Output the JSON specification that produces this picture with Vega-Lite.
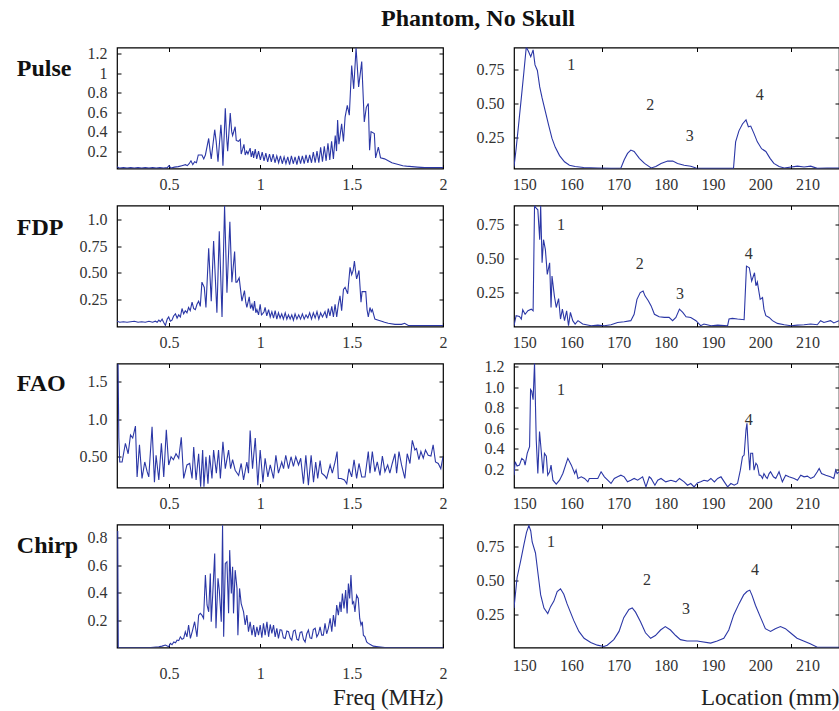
{
"$schema": "https://vega.github.io/schema/vega-lite/v6.json",
"background": "white",
"padding": {"left": 15, "top": 6.5, "right": 0, "bottom": 0},
"title": {"text": "Phantom, No Skull", "font": "Liberation Serif", "fontSize": 24, "fontWeight": "bold", "color": "#111", "anchor": "middle", "frame": "group", "dx": 361, "offset": 14},
"config": {
  "font": "Liberation Serif",
  "view": {"stroke": "#000", "strokeWidth": 1.2},
  "axis": {"labelFont": "Liberation Serif", "labelFontSize": 16, "labelColor": "#333", "tickColor": "#000", "tickSize": -4, "tickWidth": 1, "domain": false, "grid": false, "labelFlush": false, "labelOverlap": false, "labelBound": false, "titleFont": "Liberation Serif"},
  "axisLeft": {"titleAngle": 0, "titleAlign": "left", "titleBaseline": "alphabetic", "titleX": -100.7, "titleFontSize": 24, "titleFontWeight": "bold", "titleColor": "#111", "labelPadding": 14},
  "axisBottom": {"titleFontSize": 23, "titleFontWeight": "normal", "titleAlign": "right", "titleBaseline": "alphabetic", "titleY": 57, "titleColor": "#222", "labelPadding": 12},
  "text": {"font": "Liberation Serif", "fontSize": 16, "color": "#333"}
},
"datasets": {
"pF": [{"x":0.215,"y":0.04},{"x":0.23,"y":0.025},{"x":0.25,"y":0.03},{"x":0.27,"y":0.025},{"x":0.29,"y":0.03},{"x":0.31,"y":0.025},{"x":0.33,"y":0.03},{"x":0.35,"y":0.025},{"x":0.37,"y":0.03},{"x":0.39,"y":0.025},{"x":0.41,"y":0.03},{"x":0.43,"y":0.025},{"x":0.45,"y":0.03},{"x":0.47,"y":0.025},{"x":0.49,"y":0.03},{"x":0.5,"y":0.05},{"x":0.51,"y":0.025},{"x":0.53,"y":0.035},{"x":0.55,"y":0.04},{"x":0.57,"y":0.05},{"x":0.59,"y":0.06},{"x":0.6,"y":0.05},{"x":0.61,"y":0.07},{"x":0.62,"y":0.1},{"x":0.63,"y":0.06},{"x":0.64,"y":0.09},{"x":0.65,"y":0.08},{"x":0.66,"y":0.16},{"x":0.68,"y":0.16},{"x":0.69,"y":0.12},{"x":0.699,"y":0.16},{"x":0.717,"y":0.33},{"x":0.725,"y":0.2},{"x":0.731,"y":0.12},{"x":0.75,"y":0.42},{"x":0.758,"y":0.3},{"x":0.768,"y":0.09},{"x":0.784,"y":0.47},{"x":0.79,"y":0.3},{"x":0.795,"y":0.05},{"x":0.808,"y":0.64},{"x":0.815,"y":0.35},{"x":0.821,"y":0.2},{"x":0.835,"y":0.59},{"x":0.843,"y":0.4},{"x":0.848,"y":0.36},{"x":0.862,"y":0.45},{"x":0.868,"y":0.31},{"x":0.88,"y":0.3},{"x":0.89,"y":0.32},{"x":0.895,"y":0.17},{"x":0.903,"y":0.22},{"x":0.91,"y":0.27},{"x":0.917,"y":0.16},{"x":0.925,"y":0.2},{"x":0.932,"y":0.17},{"x":0.944,"y":0.23},{"x":0.95,"y":0.14},{"x":0.958,"y":0.2},{"x":0.963,"y":0.13},{"x":0.972,"y":0.22},{"x":0.98,"y":0.12},{"x":0.99,"y":0.2},{"x":1.0,"y":0.11},{"x":1.01,"y":0.19},{"x":1.02,"y":0.1},{"x":1.03,"y":0.18},{"x":1.04,"y":0.09},{"x":1.05,"y":0.17},{"x":1.06,"y":0.09},{"x":1.07,"y":0.17},{"x":1.08,"y":0.08},{"x":1.09,"y":0.15},{"x":1.1,"y":0.08},{"x":1.11,"y":0.15},{"x":1.12,"y":0.07},{"x":1.13,"y":0.14},{"x":1.14,"y":0.07},{"x":1.15,"y":0.14},{"x":1.16,"y":0.06},{"x":1.17,"y":0.15},{"x":1.18,"y":0.07},{"x":1.19,"y":0.14},{"x":1.2,"y":0.06},{"x":1.21,"y":0.15},{"x":1.22,"y":0.07},{"x":1.23,"y":0.15},{"x":1.24,"y":0.07},{"x":1.25,"y":0.16},{"x":1.26,"y":0.08},{"x":1.27,"y":0.16},{"x":1.28,"y":0.08},{"x":1.29,"y":0.19},{"x":1.3,"y":0.08},{"x":1.31,"y":0.2},{"x":1.32,"y":0.08},{"x":1.33,"y":0.24},{"x":1.34,"y":0.09},{"x":1.35,"y":0.25},{"x":1.36,"y":0.1},{"x":1.37,"y":0.28},{"x":1.38,"y":0.11},{"x":1.39,"y":0.3},{"x":1.4,"y":0.12},{"x":1.41,"y":0.36},{"x":1.417,"y":0.2},{"x":1.423,"y":0.52},{"x":1.43,"y":0.27},{"x":1.445,"y":0.48},{"x":1.455,"y":0.3},{"x":1.464,"y":0.55},{"x":1.476,"y":0.67},{"x":1.487,"y":0.57},{"x":1.5,"y":1.08},{"x":1.511,"y":0.84},{"x":1.524,"y":1.26},{"x":1.538,"y":0.86},{"x":1.555,"y":1.12},{"x":1.569,"y":0.5},{"x":1.58,"y":0.65},{"x":1.591,"y":0.69},{"x":1.598,"y":0.21},{"x":1.606,"y":0.4},{"x":1.624,"y":0.38},{"x":1.631,"y":0.13},{"x":1.646,"y":0.24},{"x":1.658,"y":0.13},{"x":1.68,"y":0.12},{"x":1.7,"y":0.1},{"x":1.72,"y":0.08},{"x":1.74,"y":0.07},{"x":1.76,"y":0.06},{"x":1.78,"y":0.05},{"x":1.8,"y":0.045},{"x":1.83,"y":0.04},{"x":1.86,"y":0.035},{"x":1.9,"y":0.03},{"x":1.95,"y":0.03},{"x":2.0,"y":0.03}],
"pL": [{"x":148.25,"y":0.04},{"x":148.7,"y":0.17},{"x":149.3,"y":0.37},{"x":149.8,"y":0.54},{"x":150.35,"y":0.73},{"x":150.85,"y":0.91},{"x":151.3,"y":0.88},{"x":151.8,"y":0.84},{"x":152.3,"y":0.89},{"x":152.7,"y":0.78},{"x":153.2,"y":0.74},{"x":153.7,"y":0.62},{"x":154.2,"y":0.54},{"x":154.9,"y":0.44},{"x":155.6,"y":0.34},{"x":156.3,"y":0.245},{"x":157.0,"y":0.18},{"x":157.9,"y":0.12},{"x":158.95,"y":0.075},{"x":160.0,"y":0.05},{"x":161.2,"y":0.04},{"x":163,"y":0.033},{"x":166.0,"y":0.03},{"x":168.8,"y":0.027},{"x":170.9,"y":0.03},{"x":171.6,"y":0.09},{"x":172.3,"y":0.136},{"x":173.0,"y":0.16},{"x":173.7,"y":0.15},{"x":174.8,"y":0.1},{"x":175.9,"y":0.063},{"x":177.3,"y":0.03},{"x":178.3,"y":0.04},{"x":179.4,"y":0.063},{"x":180.8,"y":0.08},{"x":181.9,"y":0.08},{"x":182.9,"y":0.063},{"x":184.3,"y":0.05},{"x":185.7,"y":0.043},{"x":186.8,"y":0.03},{"x":188.5,"y":0.027},{"x":191.4,"y":0.027},{"x":194.75,"y":0.027},{"x":195.2,"y":0.22},{"x":195.9,"y":0.3},{"x":196.65,"y":0.35},{"x":197.4,"y":0.38},{"x":197.9,"y":0.33},{"x":198.4,"y":0.335},{"x":199.1,"y":0.28},{"x":199.8,"y":0.22},{"x":200.7,"y":0.17},{"x":201.6,"y":0.15},{"x":202.5,"y":0.1},{"x":203.3,"y":0.063},{"x":204.4,"y":0.04},{"x":205.5,"y":0.03},{"x":208.3,"y":0.043},{"x":209.7,"y":0.037},{"x":211.1,"y":0.043},{"x":212.5,"y":0.027},{"x":214.6,"y":0.03},{"x":217.1,"y":0.03}],
"dF": [{"x":0.215,"y":0.04},{"x":0.23,"y":0.03},{"x":0.25,"y":0.035},{"x":0.27,"y":0.03},{"x":0.29,"y":0.035},{"x":0.31,"y":0.04},{"x":0.33,"y":0.03},{"x":0.35,"y":0.035},{"x":0.37,"y":0.03},{"x":0.39,"y":0.04},{"x":0.41,"y":0.03},{"x":0.425,"y":0.04},{"x":0.435,"y":0.03},{"x":0.444,"y":0.05},{"x":0.452,"y":0.035},{"x":0.462,"y":0.06},{"x":0.47,"y":0.03},{"x":0.48,"y":0.0},{"x":0.49,"y":0.06},{"x":0.498,"y":0.08},{"x":0.507,"y":0.04},{"x":0.516,"y":0.05},{"x":0.525,"y":0.09},{"x":0.535,"y":0.11},{"x":0.544,"y":0.07},{"x":0.553,"y":0.1},{"x":0.562,"y":0.08},{"x":0.571,"y":0.16},{"x":0.58,"y":0.11},{"x":0.589,"y":0.14},{"x":0.598,"y":0.12},{"x":0.607,"y":0.17},{"x":0.616,"y":0.14},{"x":0.626,"y":0.22},{"x":0.635,"y":0.16},{"x":0.644,"y":0.15},{"x":0.653,"y":0.2},{"x":0.662,"y":0.23},{"x":0.671,"y":0.18},{"x":0.68,"y":0.41},{"x":0.693,"y":0.36},{"x":0.702,"y":0.17},{"x":0.717,"y":0.73},{"x":0.731,"y":0.23},{"x":0.744,"y":0.8},{"x":0.762,"y":0.12},{"x":0.775,"y":0.89},{"x":0.79,"y":0.08},{"x":0.804,"y":1.13},{"x":0.817,"y":0.31},{"x":0.833,"y":0.98},{"x":0.844,"y":0.41},{"x":0.859,"y":0.7},{"x":0.866,"y":0.41},{"x":0.872,"y":0.41},{"x":0.884,"y":0.45},{"x":0.899,"y":0.23},{"x":0.913,"y":0.33},{"x":0.92,"y":0.22},{"x":0.926,"y":0.17},{"x":0.939,"y":0.27},{"x":0.946,"y":0.16},{"x":0.954,"y":0.2},{"x":0.961,"y":0.14},{"x":0.968,"y":0.23},{"x":0.975,"y":0.12},{"x":0.981,"y":0.15},{"x":0.99,"y":0.1},{"x":0.999,"y":0.2},{"x":1.006,"y":0.1},{"x":1.012,"y":0.11},{"x":1.02,"y":0.13},{"x":1.026,"y":0.17},{"x":1.035,"y":0.09},{"x":1.045,"y":0.15},{"x":1.054,"y":0.08},{"x":1.063,"y":0.13},{"x":1.072,"y":0.07},{"x":1.081,"y":0.14},{"x":1.09,"y":0.06},{"x":1.099,"y":0.12},{"x":1.108,"y":0.07},{"x":1.117,"y":0.11},{"x":1.126,"y":0.06},{"x":1.136,"y":0.12},{"x":1.145,"y":0.06},{"x":1.154,"y":0.1},{"x":1.163,"y":0.06},{"x":1.172,"y":0.1},{"x":1.181,"y":0.05},{"x":1.19,"y":0.11},{"x":1.2,"y":0.06},{"x":1.21,"y":0.1},{"x":1.22,"y":0.06},{"x":1.23,"y":0.11},{"x":1.24,"y":0.06},{"x":1.25,"y":0.1},{"x":1.26,"y":0.07},{"x":1.27,"y":0.12},{"x":1.28,"y":0.06},{"x":1.29,"y":0.12},{"x":1.3,"y":0.07},{"x":1.31,"y":0.13},{"x":1.32,"y":0.06},{"x":1.33,"y":0.12},{"x":1.34,"y":0.08},{"x":1.354,"y":0.13},{"x":1.363,"y":0.07},{"x":1.372,"y":0.16},{"x":1.381,"y":0.09},{"x":1.391,"y":0.18},{"x":1.4,"y":0.08},{"x":1.409,"y":0.2},{"x":1.418,"y":0.08},{"x":1.427,"y":0.2},{"x":1.436,"y":0.28},{"x":1.445,"y":0.14},{"x":1.455,"y":0.34},{"x":1.464,"y":0.36},{"x":1.478,"y":0.3},{"x":1.491,"y":0.55},{"x":1.5,"y":0.48},{"x":1.508,"y":0.52},{"x":1.515,"y":0.61},{"x":1.522,"y":0.5},{"x":1.527,"y":0.44},{"x":1.54,"y":0.52},{"x":1.551,"y":0.22},{"x":1.557,"y":0.32},{"x":1.564,"y":0.32},{"x":1.577,"y":0.32},{"x":1.584,"y":0.15},{"x":1.591,"y":0.08},{"x":1.6,"y":0.17},{"x":1.607,"y":0.13},{"x":1.613,"y":0.15},{"x":1.627,"y":0.06},{"x":1.646,"y":0.05},{"x":1.664,"y":0.04},{"x":1.68,"y":0.03},{"x":1.7,"y":0.02},{"x":1.737,"y":0.01},{"x":1.773,"y":0.01},{"x":1.79,"y":0.02},{"x":1.81,"y":0.0},{"x":1.85,"y":0.0},{"x":1.9,"y":0.0},{"x":1.95,"y":0.0},{"x":2.0,"y":0.0}],
"dL": [{"x":148.25,"y":0.006},{"x":148.7,"y":0.08},{"x":149.4,"y":0.074},{"x":149.8,"y":0.055},{"x":150.1,"y":0.123},{"x":150.6,"y":0.09},{"x":151.2,"y":0.116},{"x":151.9,"y":0.128},{"x":152.3,"y":0.116},{"x":152.6,"y":0.89},{"x":153.0,"y":0.87},{"x":153.3,"y":0.86},{"x":153.7,"y":0.64},{"x":153.9,"y":0.89},{"x":154.2,"y":0.47},{"x":154.5,"y":0.64},{"x":154.9,"y":0.567},{"x":155.3,"y":0.384},{"x":155.8,"y":0.47},{"x":156.1,"y":0.14},{"x":156.3,"y":0.372},{"x":156.8,"y":0.226},{"x":157.2,"y":0.14},{"x":157.7,"y":0.206},{"x":158.1,"y":0.055},{"x":158.5,"y":0.128},{"x":158.95,"y":0.043},{"x":159.4,"y":0.116},{"x":159.8,"y":0.006},{"x":160.2,"y":0.104},{"x":160.7,"y":0.043},{"x":161.2,"y":0.018},{"x":161.8,"y":0.043},{"x":162.8,"y":0.018},{"x":164.6,"y":0.006},{"x":166.0,"y":0.01},{"x":167.4,"y":0.006},{"x":168.8,"y":0.013},{"x":170.2,"y":0.03},{"x":171.6,"y":0.035},{"x":173.0,"y":0.043},{"x":173.7,"y":0.09},{"x":174.3,"y":0.2},{"x":175.0,"y":0.25},{"x":175.6,"y":0.262},{"x":176.0,"y":0.226},{"x":176.7,"y":0.19},{"x":177.3,"y":0.152},{"x":178.0,"y":0.09},{"x":179.0,"y":0.072},{"x":180.1,"y":0.067},{"x":181.1,"y":0.067},{"x":181.85,"y":0.043},{"x":182.55,"y":0.067},{"x":183.3,"y":0.128},{"x":184.0,"y":0.104},{"x":184.7,"y":0.072},{"x":185.7,"y":0.067},{"x":186.8,"y":0.043},{"x":187.8,"y":0.006},{"x":188.5,"y":0.018},{"x":190.0,"y":0.006},{"x":191.4,"y":0.01},{"x":193.5,"y":0.006},{"x":193.8,"y":0.055},{"x":194.5,"y":0.06},{"x":195.6,"y":0.055},{"x":197.0,"y":0.05},{"x":197.5,"y":0.445},{"x":198.1,"y":0.433},{"x":198.6,"y":0.335},{"x":199.2,"y":0.396},{"x":199.5,"y":0.3},{"x":199.8,"y":0.328},{"x":200.4,"y":0.2},{"x":200.9,"y":0.213},{"x":201.2,"y":0.128},{"x":201.6,"y":0.08},{"x":202.3,"y":0.067},{"x":203.0,"y":0.043},{"x":204.05,"y":0.023},{"x":205.5,"y":0.013},{"x":206.9,"y":0.006},{"x":208.3,"y":0.01},{"x":209.7,"y":0.013},{"x":211.1,"y":0.018},{"x":212.5,"y":0.013},{"x":213.2,"y":0.043},{"x":213.9,"y":0.03},{"x":215.3,"y":0.043},{"x":216.0,"y":0.026},{"x":217.1,"y":0.043}],
"aF": [{"x":0.221,"y":1.74},{"x":0.225,"y":0.75},{"x":0.23,"y":0.43},{"x":0.243,"y":0.43},{"x":0.261,"y":0.68},{"x":0.276,"y":0.54},{"x":0.289,"y":0.79},{"x":0.301,"y":0.75},{"x":0.316,"y":0.91},{"x":0.325,"y":0.23},{"x":0.338,"y":0.66},{"x":0.352,"y":0.21},{"x":0.367,"y":0.43},{"x":0.38,"y":0.3},{"x":0.389,"y":0.23},{"x":0.407,"y":0.9},{"x":0.42,"y":0.16},{"x":0.429,"y":0.52},{"x":0.444,"y":0.19},{"x":0.458,"y":0.68},{"x":0.471,"y":0.23},{"x":0.485,"y":0.86},{"x":0.498,"y":0.39},{"x":0.511,"y":0.5},{"x":0.524,"y":0.46},{"x":0.538,"y":0.54},{"x":0.553,"y":0.48},{"x":0.567,"y":0.76},{"x":0.58,"y":0.21},{"x":0.598,"y":0.39},{"x":0.613,"y":0.41},{"x":0.626,"y":0.21},{"x":0.635,"y":0.63},{"x":0.648,"y":0.19},{"x":0.662,"y":0.54},{"x":0.673,"y":0.1},{"x":0.684,"y":0.59},{"x":0.691,"y":0.1},{"x":0.702,"y":0.5},{"x":0.713,"y":0.14},{"x":0.722,"y":0.52},{"x":0.735,"y":0.21},{"x":0.744,"y":0.59},{"x":0.759,"y":0.28},{"x":0.771,"y":0.59},{"x":0.781,"y":0.21},{"x":0.795,"y":0.7},{"x":0.808,"y":0.34},{"x":0.826,"y":0.59},{"x":0.837,"y":0.34},{"x":0.848,"y":0.46},{"x":0.862,"y":0.32},{"x":0.881,"y":0.25},{"x":0.895,"y":0.41},{"x":0.908,"y":0.19},{"x":0.926,"y":0.43},{"x":0.935,"y":0.28},{"x":0.944,"y":0.85},{"x":0.957,"y":0.34},{"x":0.972,"y":0.75},{"x":0.986,"y":0.12},{"x":0.999,"y":0.59},{"x":1.014,"y":0.16},{"x":1.026,"y":0.48},{"x":1.041,"y":0.23},{"x":1.054,"y":0.39},{"x":1.072,"y":0.21},{"x":1.085,"y":0.52},{"x":1.099,"y":0.28},{"x":1.117,"y":0.43},{"x":1.127,"y":0.34},{"x":1.139,"y":0.52},{"x":1.154,"y":0.34},{"x":1.168,"y":0.5},{"x":1.181,"y":0.37},{"x":1.194,"y":0.5},{"x":1.209,"y":0.39},{"x":1.221,"y":0.48},{"x":1.236,"y":0.14},{"x":1.249,"y":0.52},{"x":1.263,"y":0.12},{"x":1.278,"y":0.52},{"x":1.291,"y":0.16},{"x":1.303,"y":0.43},{"x":1.314,"y":0.21},{"x":1.327,"y":0.45},{"x":1.336,"y":0.28},{"x":1.351,"y":0.25},{"x":1.363,"y":0.21},{"x":1.382,"y":0.39},{"x":1.394,"y":0.28},{"x":1.409,"y":0.43},{"x":1.42,"y":0.57},{"x":1.427,"y":0.21},{"x":1.442,"y":0.21},{"x":1.46,"y":0.19},{"x":1.473,"y":0.14},{"x":1.485,"y":0.34},{"x":1.5,"y":0.23},{"x":1.513,"y":0.46},{"x":1.527,"y":0.21},{"x":1.54,"y":0.41},{"x":1.555,"y":0.23},{"x":1.573,"y":0.23},{"x":1.591,"y":0.57},{"x":1.6,"y":0.28},{"x":1.613,"y":0.57},{"x":1.627,"y":0.3},{"x":1.64,"y":0.43},{"x":1.655,"y":0.25},{"x":1.668,"y":0.51},{"x":1.682,"y":0.3},{"x":1.697,"y":0.39},{"x":1.709,"y":0.28},{"x":1.722,"y":0.41},{"x":1.737,"y":0.54},{"x":1.746,"y":0.28},{"x":1.759,"y":0.57},{"x":1.773,"y":0.39},{"x":1.791,"y":0.21},{"x":1.804,"y":0.54},{"x":1.819,"y":0.41},{"x":1.832,"y":0.72},{"x":1.846,"y":0.59},{"x":1.855,"y":0.61},{"x":1.868,"y":0.46},{"x":1.879,"y":0.57},{"x":1.892,"y":0.48},{"x":1.904,"y":0.59},{"x":1.919,"y":0.52},{"x":1.934,"y":0.51},{"x":1.946,"y":0.66},{"x":1.959,"y":0.43},{"x":1.974,"y":0.41},{"x":1.988,"y":0.34},{"x":2.0,"y":0.5}],
"aL": [{"x":148.25,"y":0.144},{"x":148.5,"y":0.275},{"x":148.9,"y":0.233},{"x":149.4,"y":0.242},{"x":149.9,"y":0.308},{"x":150.35,"y":0.29},{"x":150.6,"y":0.242},{"x":151.05,"y":0.357},{"x":151.55,"y":0.422},{"x":151.76,"y":0.978},{"x":152.0,"y":0.961},{"x":152.3,"y":0.88},{"x":152.6,"y":1.24},{"x":152.96,"y":0.49},{"x":153.3,"y":0.16},{"x":153.66,"y":0.569},{"x":154.0,"y":0.39},{"x":154.4,"y":0.16},{"x":154.7,"y":0.357},{"x":155.1,"y":0.33},{"x":155.4,"y":0.144},{"x":155.8,"y":0.177},{"x":156.1,"y":0.242},{"x":156.5,"y":0.095},{"x":157.2,"y":0.056},{"x":157.9,"y":0.095},{"x":158.6,"y":0.16},{"x":159.65,"y":0.308},{"x":160.4,"y":0.242},{"x":161.1,"y":0.16},{"x":161.4,"y":0.193},{"x":161.8,"y":0.112},{"x":162.5,"y":0.128},{"x":163.2,"y":0.112},{"x":163.9,"y":0.079},{"x":164.2,"y":0.112},{"x":165.3,"y":0.112},{"x":166.0,"y":0.112},{"x":166.7,"y":0.177},{"x":167.4,"y":0.128},{"x":168.1,"y":0.095},{"x":168.8,"y":0.063},{"x":169.5,"y":0.112},{"x":170.2,"y":0.128},{"x":170.9,"y":0.144},{"x":171.6,"y":0.128},{"x":172.3,"y":0.079},{"x":173.0,"y":0.095},{"x":173.7,"y":0.112},{"x":174.45,"y":0.095},{"x":175.5,"y":0.128},{"x":176.2,"y":0.03},{"x":176.9,"y":0.128},{"x":177.3,"y":0.112},{"x":178.1,"y":0.046},{"x":178.7,"y":0.095},{"x":179.4,"y":0.112},{"x":180.4,"y":0.079},{"x":181.5,"y":0.095},{"x":182.55,"y":0.079},{"x":183.3,"y":0.112},{"x":184.3,"y":0.079},{"x":185.0,"y":0.046},{"x":185.7,"y":0.063},{"x":186.4,"y":0.03},{"x":187.1,"y":0.069},{"x":187.8,"y":0.079},{"x":188.5,"y":0.095},{"x":189.25,"y":0.086},{"x":189.96,"y":0.112},{"x":190.7,"y":0.079},{"x":191.4,"y":0.112},{"x":192.1,"y":0.128},{"x":192.8,"y":0.079},{"x":193.5,"y":0.03},{"x":194.2,"y":0.063},{"x":194.9,"y":0.046},{"x":195.6,"y":0.063},{"x":196.2,"y":0.193},{"x":196.65,"y":0.324},{"x":197.0,"y":0.34},{"x":197.4,"y":0.586},{"x":197.6,"y":0.65},{"x":197.9,"y":0.39},{"x":198.2,"y":0.193},{"x":198.4,"y":0.357},{"x":198.8,"y":0.357},{"x":199.1,"y":0.193},{"x":199.5,"y":0.26},{"x":199.8,"y":0.242},{"x":200.2,"y":0.144},{"x":200.5,"y":0.144},{"x":200.9,"y":0.112},{"x":201.2,"y":0.16},{"x":201.6,"y":0.128},{"x":201.9,"y":0.112},{"x":202.3,"y":0.16},{"x":202.6,"y":0.177},{"x":203.2,"y":0.128},{"x":203.7,"y":0.112},{"x":204.4,"y":0.177},{"x":205.1,"y":0.079},{"x":205.8,"y":0.144},{"x":206.5,"y":0.128},{"x":207.6,"y":0.112},{"x":208.3,"y":0.095},{"x":209.0,"y":0.144},{"x":209.7,"y":0.128},{"x":210.4,"y":0.135},{"x":211.1,"y":0.112},{"x":211.8,"y":0.128},{"x":212.5,"y":0.177},{"x":212.9,"y":0.21},{"x":213.4,"y":0.16},{"x":214.3,"y":0.144},{"x":215.3,"y":0.128},{"x":216.0,"y":0.112},{"x":216.4,"y":0.193},{"x":216.7,"y":0.16},{"x":217.1,"y":0.177}],
"cF": [{"x":0.219,"y":0.85},{"x":0.222,"y":0.0},{"x":0.25,"y":0.0},{"x":0.3,"y":0.0},{"x":0.35,"y":0.0},{"x":0.4,"y":0.0},{"x":0.444,"y":0.006},{"x":0.462,"y":0.01},{"x":0.48,"y":0.018},{"x":0.498,"y":0.006},{"x":0.507,"y":0.03},{"x":0.516,"y":0.02},{"x":0.526,"y":0.04},{"x":0.535,"y":0.035},{"x":0.544,"y":0.054},{"x":0.553,"y":0.05},{"x":0.562,"y":0.078},{"x":0.571,"y":0.06},{"x":0.58,"y":0.066},{"x":0.589,"y":0.115},{"x":0.598,"y":0.078},{"x":0.607,"y":0.164},{"x":0.617,"y":0.066},{"x":0.629,"y":0.127},{"x":0.64,"y":0.188},{"x":0.653,"y":0.078},{"x":0.662,"y":0.236},{"x":0.671,"y":0.249},{"x":0.68,"y":0.236},{"x":0.689,"y":0.212},{"x":0.699,"y":0.528},{"x":0.708,"y":0.31},{"x":0.717,"y":0.26},{"x":0.726,"y":0.54},{"x":0.731,"y":0.188},{"x":0.739,"y":0.382},{"x":0.75,"y":0.686},{"x":0.757,"y":0.14},{"x":0.768,"y":0.504},{"x":0.775,"y":0.419},{"x":0.786,"y":0.188},{"x":0.793,"y":0.892},{"x":0.799,"y":0.078},{"x":0.808,"y":0.613},{"x":0.817,"y":0.625},{"x":0.826,"y":0.249},{"x":0.832,"y":0.71},{"x":0.841,"y":0.394},{"x":0.848,"y":0.589},{"x":0.853,"y":0.249},{"x":0.862,"y":0.564},{"x":0.872,"y":0.431},{"x":0.877,"y":0.09},{"x":0.886,"y":0.431},{"x":0.895,"y":0.32},{"x":0.908,"y":0.26},{"x":0.917,"y":0.164},{"x":0.926,"y":0.236},{"x":0.935,"y":0.115},{"x":0.944,"y":0.188},{"x":0.954,"y":0.09},{"x":0.963,"y":0.164},{"x":0.972,"y":0.078},{"x":0.981,"y":0.151},{"x":0.99,"y":0.09},{"x":0.999,"y":0.164},{"x":1.008,"y":0.071},{"x":1.017,"y":0.176},{"x":1.026,"y":0.09},{"x":1.036,"y":0.188},{"x":1.045,"y":0.078},{"x":1.054,"y":0.168},{"x":1.063,"y":0.103},{"x":1.072,"y":0.164},{"x":1.081,"y":0.078},{"x":1.09,"y":0.14},{"x":1.099,"y":0.066},{"x":1.108,"y":0.13},{"x":1.117,"y":0.127},{"x":1.126,"y":0.07},{"x":1.136,"y":0.066},{"x":1.145,"y":0.12},{"x":1.154,"y":0.115},{"x":1.163,"y":0.07},{"x":1.172,"y":0.054},{"x":1.181,"y":0.12},{"x":1.19,"y":0.127},{"x":1.2,"y":0.06},{"x":1.209,"y":0.054},{"x":1.218,"y":0.11},{"x":1.227,"y":0.115},{"x":1.236,"y":0.06},{"x":1.245,"y":0.04},{"x":1.254,"y":0.1},{"x":1.263,"y":0.127},{"x":1.272,"y":0.07},{"x":1.281,"y":0.066},{"x":1.29,"y":0.13},{"x":1.3,"y":0.14},{"x":1.309,"y":0.078},{"x":1.318,"y":0.1},{"x":1.327,"y":0.151},{"x":1.336,"y":0.09},{"x":1.345,"y":0.09},{"x":1.354,"y":0.176},{"x":1.363,"y":0.1},{"x":1.372,"y":0.14},{"x":1.382,"y":0.212},{"x":1.391,"y":0.115},{"x":1.4,"y":0.236},{"x":1.409,"y":0.151},{"x":1.418,"y":0.31},{"x":1.427,"y":0.236},{"x":1.436,"y":0.334},{"x":1.442,"y":0.26},{"x":1.449,"y":0.394},{"x":1.458,"y":0.285},{"x":1.467,"y":0.419},{"x":1.475,"y":0.249},{"x":1.482,"y":0.467},{"x":1.489,"y":0.358},{"x":1.496,"y":0.528},{"x":1.504,"y":0.32},{"x":1.511,"y":0.334},{"x":1.518,"y":0.26},{"x":1.527,"y":0.382},{"x":1.536,"y":0.358},{"x":1.544,"y":0.212},{"x":1.551,"y":0.164},{"x":1.558,"y":0.188},{"x":1.564,"y":0.09},{"x":1.573,"y":0.078},{"x":1.582,"y":0.04},{"x":1.591,"y":0.03},{"x":1.6,"y":0.023},{"x":1.618,"y":0.01},{"x":1.646,"y":0.006},{"x":1.682,"y":0.0},{"x":1.737,"y":0.0},{"x":1.8,"y":0.0},{"x":1.9,"y":0.0},{"x":2.0,"y":0.0}],
"cL": [{"x":148.25,"y":0.3},{"x":148.9,"y":0.52},{"x":149.65,"y":0.64},{"x":150.35,"y":0.76},{"x":150.9,"y":0.85},{"x":151.4,"y":0.9},{"x":151.8,"y":0.86},{"x":152.1,"y":0.78},{"x":152.8,"y":0.7},{"x":153.3,"y":0.56},{"x":153.9,"y":0.395},{"x":154.6,"y":0.3},{"x":155.4,"y":0.26},{"x":156.0,"y":0.31},{"x":156.7,"y":0.35},{"x":157.4,"y":0.42},{"x":158.1,"y":0.44},{"x":158.8,"y":0.4},{"x":159.5,"y":0.33},{"x":160.2,"y":0.27},{"x":160.9,"y":0.21},{"x":162.0,"y":0.13},{"x":163.1,"y":0.08},{"x":164.5,"y":0.05},{"x":165.9,"y":0.03},{"x":167.3,"y":0.02},{"x":168.0,"y":0.03},{"x":169.4,"y":0.07},{"x":170.5,"y":0.13},{"x":171.5,"y":0.23},{"x":172.6,"y":0.29},{"x":173.3,"y":0.3},{"x":174.0,"y":0.27},{"x":175.05,"y":0.2},{"x":176.1,"y":0.12},{"x":177.2,"y":0.08},{"x":178.2,"y":0.1},{"x":179.3,"y":0.14},{"x":180.3,"y":0.165},{"x":181.4,"y":0.14},{"x":182.5,"y":0.1},{"x":183.5,"y":0.07},{"x":184.9,"y":0.06},{"x":187.05,"y":0.06},{"x":189.9,"y":0.045},{"x":191.3,"y":0.06},{"x":192.7,"y":0.08},{"x":193.75,"y":0.14},{"x":194.8,"y":0.25},{"x":195.9,"y":0.33},{"x":196.9,"y":0.395},{"x":197.6,"y":0.42},{"x":198.2,"y":0.43},{"x":198.7,"y":0.39},{"x":199.4,"y":0.32},{"x":200.5,"y":0.23},{"x":201.5,"y":0.15},{"x":202.6,"y":0.13},{"x":203.6,"y":0.15},{"x":204.7,"y":0.165},{"x":205.75,"y":0.15},{"x":206.8,"y":0.12},{"x":208.2,"y":0.08},{"x":209.6,"y":0.06},{"x":211.0,"y":0.04},{"x":212.5,"y":0.015},{"x":213.9,"y":0.015},{"x":217.1,"y":0.015}],
"ann": [{"p":"pulse","x":160.4,"y":0.78,"t":"1"},{"p":"pulse","x":177.1,"y":0.49,"t":"2"},{"p":"pulse","x":185.5,"y":0.265,"t":"3"},{"p":"pulse","x":200.3,"y":0.563,"t":"4"},{"p":"fdp","x":158.2,"y":0.747,"t":"1"},{"p":"fdp","x":174.9,"y":0.462,"t":"2"},{"p":"fdp","x":183.4,"y":0.243,"t":"3"},{"p":"fdp","x":198.0,"y":0.535,"t":"4"},{"p":"fao","x":158.2,"y":0.977,"t":"1"},{"p":"fao","x":198.0,"y":0.683,"t":"4"},{"p":"chirp","x":156.1,"y":0.781,"t":"1"},{"p":"chirp","x":176.4,"y":0.506,"t":"2"},{"p":"chirp","x":184.7,"y":0.296,"t":"3"},{"p":"chirp","x":199.3,"y":0.578,"t":"4"}]
},
"bounds": "flush",
"columns": 2,
"spacing": {"row": 37, "column": 71},
"concat": [
  {"width": 326, "height": 121, "resolve": {"axis": {"x": "independent", "y": "independent"}}, "layer": [
   {"data": {"name": "pF"}, "mark": {"type": "line", "clip": true, "color": "#2b37a6", "strokeWidth": 1.1},
    "encoding": {"x": {"field": "x", "type": "quantitative", "scale": {"domain": [0.215, 2.0], "nice": false, "zero": false}, "axis": {"orient": "bottom", "values": [0.5, 1, 1.5, 2], "format": "~g", "title": null}},
                 "y": {"field": "y", "type": "quantitative", "scale": {"domain": [0.021, 1.265], "nice": false, "zero": false}, "axis": {"orient": "left", "values": [0.2, 0.4, 0.6, 0.8, 1, 1.2], "format": "~g", "title": "Pulse", "titleY": 27.5}}}},
   {"data": {"name": "pF"}, "mark": {"type": "line", "opacity": 0},
    "encoding": {"x": {"field": "x", "type": "quantitative", "scale": {"domain": [0.215, 2.0], "nice": false, "zero": false}, "axis": {"orient": "top", "values": [0.5, 1, 1.5], "labels": false, "title": null}},
                 "y": {"field": "y", "type": "quantitative", "scale": {"domain": [0.021, 1.265], "nice": false, "zero": false}, "axis": {"orient": "right", "values": [0.2, 0.4, 0.6, 0.8, 1, 1.2], "labels": false, "title": null}}}}
  ]},
  {"width": 325, "height": 121, "resolve": {"axis": {"x": "independent", "y": "independent"}}, "layer": [
   {"data": {"name": "pL"}, "mark": {"type": "line", "clip": true, "color": "#2b37a6", "strokeWidth": 1.1},
    "encoding": {"x": {"field": "x", "type": "quantitative", "scale": {"domain": [148.25, 217.1], "nice": false, "zero": false}, "axis": {"orient": "bottom", "values": [150, 160, 170, 180, 190, 200, 210], "format": "d", "title": null, "tickOffset": -14.5, "labelOffset": 16.5, "tickOpacity": {"condition": {"test": "datum.value >= 170 && datum.value % 20 == 10", "value": 1}, "value": 0}}},
                 "y": {"field": "y", "type": "quantitative", "scale": {"domain": [0.026, 0.907], "nice": false, "zero": false}, "axis": {"orient": "left", "values": [0.25, 0.5, 0.75], "format": ".2f", "title": null}}}},
   {"data": {"name": "ann"}, "transform": [{"filter": "datum.p == 'pulse'"}], "mark": {"type": "text", "align": "center", "baseline": "middle"},
    "encoding": {"x": {"field": "x", "type": "quantitative", "scale": {"domain": [148.25, 217.1], "nice": false, "zero": false}, "axis": null},
                 "y": {"field": "y", "type": "quantitative", "scale": {"domain": [0.026, 0.907], "nice": false, "zero": false}, "axis": null},
                 "text": {"field": "t"}}},
   {"data": {"name": "pL"}, "mark": {"type": "line", "opacity": 0},
    "encoding": {"x": {"field": "x", "type": "quantitative", "scale": {"domain": [148.25, 217.1], "nice": false, "zero": false}, "axis": {"orient": "top", "values": [170, 190, 210], "tickOffset": -14.5, "labels": false, "title": null}},
                 "y": {"field": "y", "type": "quantitative", "scale": {"domain": [0.026, 0.907], "nice": false, "zero": false}, "axis": {"orient": "right", "values": [0.25, 0.5, 0.75], "labels": false, "title": null}}}}
  ]},
  {"width": 326, "height": 121, "resolve": {"axis": {"x": "independent", "y": "independent"}}, "layer": [
   {"data": {"name": "dF"}, "mark": {"type": "line", "clip": true, "color": "#2b37a6", "strokeWidth": 1.1},
    "encoding": {"x": {"field": "x", "type": "quantitative", "scale": {"domain": [0.215, 2.0], "nice": false, "zero": false}, "axis": {"orient": "bottom", "values": [0.5, 1, 1.5, 2], "format": "~g", "title": null}},
                 "y": {"field": "y", "type": "quantitative", "scale": {"domain": [-0.01, 1.135], "nice": false, "zero": false}, "axis": {"orient": "left", "values": [0.25, 0.5, 0.75, 1], "labelExpr": "datum.value == 1 ? '1.0' : format(datum.value, '.2f')", "title": "FDP", "titleY": 29}}}},
   {"data": {"name": "dF"}, "mark": {"type": "line", "opacity": 0},
    "encoding": {"x": {"field": "x", "type": "quantitative", "scale": {"domain": [0.215, 2.0], "nice": false, "zero": false}, "axis": {"orient": "top", "values": [0.5, 1, 1.5], "labels": false, "title": null}},
                 "y": {"field": "y", "type": "quantitative", "scale": {"domain": [-0.01, 1.135], "nice": false, "zero": false}, "axis": {"orient": "right", "values": [0.25, 0.5, 0.75, 1], "labels": false, "title": null}}}}
  ]},
  {"width": 325, "height": 121, "resolve": {"axis": {"x": "independent", "y": "independent"}}, "layer": [
   {"data": {"name": "dL"}, "mark": {"type": "line", "clip": true, "color": "#2b37a6", "strokeWidth": 1.1},
    "encoding": {"x": {"field": "x", "type": "quantitative", "scale": {"domain": [148.25, 217.1], "nice": false, "zero": false}, "axis": {"orient": "bottom", "values": [150, 160, 170, 180, 190, 200, 210], "format": "d", "title": null, "tickOffset": -14.5, "labelOffset": 16.5, "tickOpacity": {"condition": {"test": "datum.value >= 170 && datum.value % 20 == 10", "value": 1}, "value": 0}}},
                 "y": {"field": "y", "type": "quantitative", "scale": {"domain": [0, 0.892], "nice": false, "zero": false}, "axis": {"orient": "left", "values": [0.25, 0.5, 0.75], "format": ".2f", "title": null}}}},
   {"data": {"name": "ann"}, "transform": [{"filter": "datum.p == 'fdp'"}], "mark": {"type": "text", "align": "center", "baseline": "middle"},
    "encoding": {"x": {"field": "x", "type": "quantitative", "scale": {"domain": [148.25, 217.1], "nice": false, "zero": false}, "axis": null},
                 "y": {"field": "y", "type": "quantitative", "scale": {"domain": [0, 0.892], "nice": false, "zero": false}, "axis": null},
                 "text": {"field": "t"}}},
   {"data": {"name": "dL"}, "mark": {"type": "line", "opacity": 0},
    "encoding": {"x": {"field": "x", "type": "quantitative", "scale": {"domain": [148.25, 217.1], "nice": false, "zero": false}, "axis": {"orient": "top", "values": [170, 190, 210], "tickOffset": -14.5, "labels": false, "title": null}},
                 "y": {"field": "y", "type": "quantitative", "scale": {"domain": [0, 0.892], "nice": false, "zero": false}, "axis": {"orient": "right", "values": [0.25, 0.5, 0.75], "labels": false, "title": null}}}}
  ]},
  {"width": 326, "height": 124, "resolve": {"axis": {"x": "independent", "y": "independent"}}, "layer": [
   {"data": {"name": "aF"}, "mark": {"type": "line", "clip": true, "color": "#2b37a6", "strokeWidth": 1.1},
    "encoding": {"x": {"field": "x", "type": "quantitative", "scale": {"domain": [0.215, 2.0], "nice": false, "zero": false}, "axis": {"orient": "bottom", "values": [0.5, 1, 1.5, 2], "format": "~g", "title": null}},
                 "y": {"field": "y", "type": "quantitative", "scale": {"domain": [0.089, 1.746], "nice": false, "zero": false}, "axis": {"orient": "left", "values": [0.5, 1, 1.5], "labelExpr": "datum.value == 0.5 ? '0.50' : format(datum.value, '.1f')", "title": "FAO", "titleY": 27}}}},
   {"data": {"name": "aF"}, "mark": {"type": "line", "opacity": 0},
    "encoding": {"x": {"field": "x", "type": "quantitative", "scale": {"domain": [0.215, 2.0], "nice": false, "zero": false}, "axis": {"orient": "top", "values": [0.5, 1, 1.5], "labels": false, "title": null}},
                 "y": {"field": "y", "type": "quantitative", "scale": {"domain": [0.089, 1.746], "nice": false, "zero": false}, "axis": {"orient": "right", "values": [0.5, 1, 1.5], "labels": false, "title": null}}}}
  ]},
  {"width": 325, "height": 124, "resolve": {"axis": {"x": "independent", "y": "independent"}}, "layer": [
   {"data": {"name": "aL"}, "mark": {"type": "line", "clip": true, "color": "#2b37a6", "strokeWidth": 1.1},
    "encoding": {"x": {"field": "x", "type": "quantitative", "scale": {"domain": [148.25, 217.1], "nice": false, "zero": false}, "axis": {"orient": "bottom", "values": [150, 160, 170, 180, 190, 200, 210], "format": "d", "title": null, "tickOffset": -14.5, "labelOffset": 16.5, "tickOpacity": {"condition": {"test": "datum.value >= 170 && datum.value % 20 == 10", "value": 1}, "value": 0}}},
                 "y": {"field": "y", "type": "quantitative", "scale": {"domain": [0.024, 1.232], "nice": false, "zero": false}, "axis": {"orient": "left", "values": [0.2, 0.4, 0.6, 0.8, 1, 1.2], "format": ".1f", "title": null}}}},
   {"data": {"name": "ann"}, "transform": [{"filter": "datum.p == 'fao'"}], "mark": {"type": "text", "align": "center", "baseline": "middle"},
    "encoding": {"x": {"field": "x", "type": "quantitative", "scale": {"domain": [148.25, 217.1], "nice": false, "zero": false}, "axis": null},
                 "y": {"field": "y", "type": "quantitative", "scale": {"domain": [0.024, 1.232], "nice": false, "zero": false}, "axis": null},
                 "text": {"field": "t"}}},
   {"data": {"name": "aL"}, "mark": {"type": "line", "opacity": 0},
    "encoding": {"x": {"field": "x", "type": "quantitative", "scale": {"domain": [148.25, 217.1], "nice": false, "zero": false}, "axis": {"orient": "top", "values": [170, 190, 210], "tickOffset": -14.5, "labels": false, "title": null}},
                 "y": {"field": "y", "type": "quantitative", "scale": {"domain": [0.024, 1.232], "nice": false, "zero": false}, "axis": {"orient": "right", "values": [0.2, 0.4, 0.6, 0.8, 1, 1.2], "labels": false, "title": null}}}}
  ]},
  {"width": 326, "height": 123, "resolve": {"axis": {"x": "independent", "y": "independent"}}, "layer": [
   {"data": {"name": "cF"}, "mark": {"type": "line", "clip": true, "color": "#2b37a6", "strokeWidth": 1.1},
    "encoding": {"x": {"field": "x", "type": "quantitative", "scale": {"domain": [0.215, 2.0], "nice": false, "zero": false}, "axis": {"orient": "bottom", "values": [0.5, 1, 1.5, 2], "format": "~g", "title": "Freq (MHz)", "titleX": 326, "labelPadding": 22}},
                 "y": {"field": "y", "type": "quantitative", "scale": {"domain": [0, 0.897], "nice": false, "zero": false}, "axis": {"orient": "left", "values": [0.2, 0.4, 0.6, 0.8], "format": ".1f", "title": "Chirp", "titleY": 27.5}}}},
   {"data": {"name": "cF"}, "mark": {"type": "line", "opacity": 0},
    "encoding": {"x": {"field": "x", "type": "quantitative", "scale": {"domain": [0.215, 2.0], "nice": false, "zero": false}, "axis": {"orient": "top", "values": [0.5, 1, 1.5], "labels": false, "title": null}},
                 "y": {"field": "y", "type": "quantitative", "scale": {"domain": [0, 0.897], "nice": false, "zero": false}, "axis": {"orient": "right", "values": [0.2, 0.4, 0.6, 0.8], "labels": false, "title": null}}}}
  ]},
  {"width": 325, "height": 123, "resolve": {"axis": {"x": "independent", "y": "independent"}}, "layer": [
   {"data": {"name": "cL"}, "mark": {"type": "line", "clip": true, "color": "#2b37a6", "strokeWidth": 1.1},
    "encoding": {"x": {"field": "x", "type": "quantitative", "scale": {"domain": [148.25, 217.1], "nice": false, "zero": false}, "axis": {"orient": "bottom", "values": [150, 160, 170, 180, 190, 200, 210], "format": "d", "title": "Location (mm)", "titleX": 325, "labelPadding": 14, "tickOffset": -14.5, "labelOffset": 16.5, "tickOpacity": {"condition": {"test": "datum.value >= 170 && datum.value % 20 == 10", "value": 1}, "value": 0}}},
                 "y": {"field": "y", "type": "quantitative", "scale": {"domain": [0.013, 0.907], "nice": false, "zero": false}, "axis": {"orient": "left", "values": [0.25, 0.5, 0.75], "format": ".2f", "title": null}}}},
   {"data": {"name": "ann"}, "transform": [{"filter": "datum.p == 'chirp'"}], "mark": {"type": "text", "align": "center", "baseline": "middle"},
    "encoding": {"x": {"field": "x", "type": "quantitative", "scale": {"domain": [148.25, 217.1], "nice": false, "zero": false}, "axis": null},
                 "y": {"field": "y", "type": "quantitative", "scale": {"domain": [0.013, 0.907], "nice": false, "zero": false}, "axis": null},
                 "text": {"field": "t"}}},
   {"data": {"name": "cL"}, "mark": {"type": "line", "opacity": 0},
    "encoding": {"x": {"field": "x", "type": "quantitative", "scale": {"domain": [148.25, 217.1], "nice": false, "zero": false}, "axis": {"orient": "top", "values": [170, 190, 210], "tickOffset": -14.5, "labels": false, "title": null}},
                 "y": {"field": "y", "type": "quantitative", "scale": {"domain": [0.013, 0.907], "nice": false, "zero": false}, "axis": {"orient": "right", "values": [0.25, 0.5, 0.75], "labels": false, "title": null}}}}
  ]}
]
}
